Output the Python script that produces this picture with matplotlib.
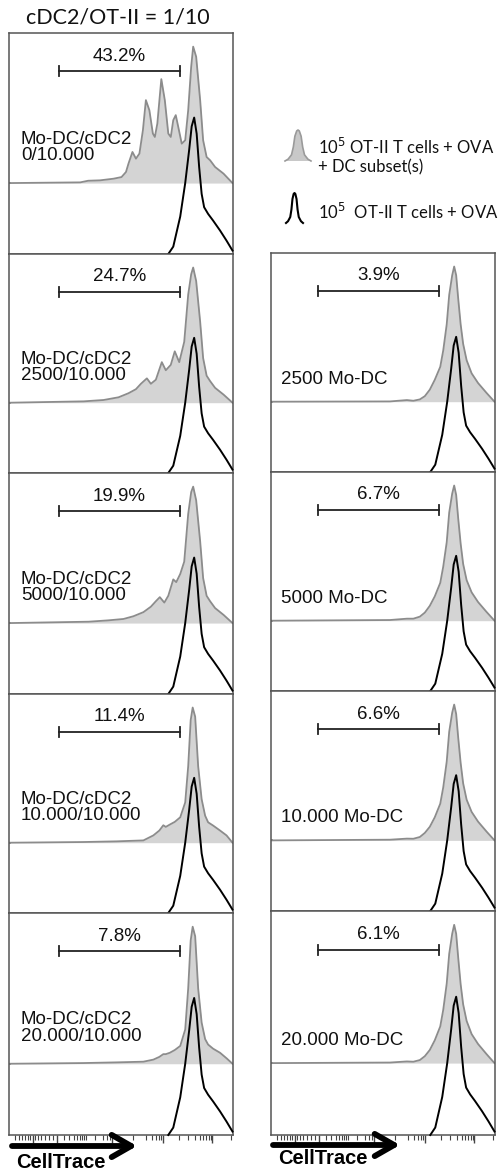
import numpy as np
import matplotlib
matplotlib.use("Agg")
import matplotlib.pyplot as plt

# ---------------- data (x in CellTrace display units 0..4.5, y = % of mode) -------------
control_x = [3.20, 3.30, 3.44, 3.54, 3.62, 3.67, 3.72, 3.77, 3.82, 3.87, 3.92, 4.00, 4.10, 4.24, 4.37, 4.49]
control_y = [0, 5.4, 27.5, 52, 76.5, 93.6, 100, 88.2, 63.7, 44.1, 34.3, 29.4, 24.5, 17.2, 9.8, 2.5]

left_labels = ["Mo-DC/cDC2\n0/10.000", "Mo-DC/cDC2\n2500/10.000", "Mo-DC/cDC2\n5000/10.000",
               "Mo-DC/cDC2\n10.000/10.000", "Mo-DC/cDC2\n20.000/10.000"]
left_pcts = ["43.2%", "24.7%", "19.9%", "11.4%", "7.8%"]

L1_x = [0.02, 1.43, 1.59, 1.83, 2.10, 2.26, 2.35, 2.40, 2.48, 2.55, 2.62, 2.69, 2.75, 2.82, 2.89, 2.93, 2.98,
        3.06, 3.13, 3.20, 3.25, 3.30, 3.35, 3.40, 3.47, 3.54, 3.60, 3.66, 3.70, 3.76, 3.84, 3.90, 3.97, 4.04,
        4.14, 4.31, 4.49]
L1_y = [0, 0.5, 1.7, 2, 3.2, 4.4, 8.1, 14.2, 22.8, 17.9, 21.6, 38.7, 60.8, 53.4, 36.3, 33.8, 43.6,
        76.2, 60.8, 36.3, 33.8, 46.1, 49.8, 41.2, 28.9, 31.4, 53.4, 85.3, 100, 92.6, 60.8, 31.4, 19.1, 16.7,
        11.8, 6.9, 0]

L2_x = [0.02, 1.5, 1.9, 2.2, 2.4, 2.55, 2.65, 2.77, 2.85, 2.95, 3.07, 3.15, 3.25, 3.33, 3.42, 3.52, 3.60,
        3.66, 3.70, 3.76, 3.84, 3.90, 3.97, 4.04, 4.14, 4.31, 4.49]
L2_y = [0, 1, 2, 4, 7, 10, 14, 18, 14, 17, 30, 24, 28, 38, 30, 45, 80, 95, 100, 90, 60, 33, 20, 16, 11, 6, 0]

L3_x = [0.02, 1.6, 2.0, 2.3, 2.5, 2.7, 2.85, 2.95, 3.03, 3.12, 3.2, 3.3, 3.36, 3.44, 3.52, 3.6, 3.66, 3.70,
        3.76, 3.84, 3.9, 3.97, 4.04, 4.14, 4.31, 4.49]
L3_y = [0, 1, 2, 3, 5, 8, 12, 16, 19, 15, 20, 32, 30, 36, 45, 80, 96, 100, 90, 60, 33, 20, 16, 11, 6, 0]

L4_x = [0.02, 1.49, 2.16, 2.70, 2.90, 3.02, 3.10, 3.15, 3.23, 3.33, 3.44, 3.54, 3.60, 3.65, 3.69, 3.74,
        3.80, 3.87, 3.94, 4.00, 4.10, 4.24, 4.37, 4.49]
L4_y = [0, 0.5, 1, 1.7, 5.4, 9, 12.9, 11.7, 13.4, 15.4, 18.8, 29.8, 56.6, 90.7, 100, 93.2,
        56.6, 32.2, 20, 15.1, 12.7, 9, 5.4, 0]

L5_x = [0.02, 1.49, 2.16, 2.70, 2.90, 3.02, 3.10, 3.15, 3.23, 3.33, 3.44, 3.54, 3.60, 3.65, 3.69, 3.74,
        3.80, 3.87, 3.94, 4.00, 4.10, 4.24, 4.37, 4.49]
L5_y = [0, 0.5, 1, 1.5, 3, 5, 7, 7, 8, 10, 13, 25, 55, 90, 100, 93, 55, 30, 18, 14, 11, 8, 4, 0]

right_labels = ["2500 Mo-DC", "5000 Mo-DC", "10.000 Mo-DC", "20.000 Mo-DC"]
right_pcts = ["3.9%", "6.7%", "6.6%", "6.1%"]

R1_x = [0.02, 2.39, 2.73, 2.86, 2.99, 3.09, 3.19, 3.29, 3.40, 3.46, 3.53, 3.58, 3.64, 3.68, 3.72, 3.76,
        3.81, 3.86, 3.93, 4.03, 4.16, 4.33, 4.49]
R1_y = [0, 0.2, 1.2, 0.7, 1.7, 4.1, 8.9, 16.2, 25.8, 37.9, 57.2, 79, 93.5, 100, 93.5, 76.6,
        57.2, 42.8, 30.7, 21, 13.8, 6.5, 0]
R2_x = [0.02, 2.39, 2.73, 2.86, 2.99, 3.09, 3.19, 3.29, 3.40, 3.46, 3.53, 3.58, 3.64, 3.68, 3.72, 3.76,
        3.81, 3.86, 3.93, 4.03, 4.16, 4.33, 4.49]
R2_y = [0, 0.5, 1.5, 1.5, 3, 6, 11, 18, 28, 40, 58, 80, 94, 100, 93, 76,
        57, 42, 30, 21, 13.8, 6.5, 0]
R3_x = R2_x
R3_y = [0, 0.5, 1.3, 1.2, 2.5, 5.5, 10, 17, 27, 39, 58, 80, 94, 100, 93, 76,
        57, 42, 30, 21, 13.8, 6.5, 0]
R4_x = R2_x
R4_y = [0, 0.4, 1.2, 1, 2.2, 5, 9.5, 16.5, 26.5, 38.5, 57.5, 79, 93.5, 100, 93.5, 76.6,
        57, 42.5, 30.5, 21, 13.8, 6.5, 0]

left_gray = [(L1_x, L1_y), (L2_x, L2_y), (L3_x, L3_y), (L4_x, L4_y), (L5_x, L5_y)]
right_gray = [(R1_x, R1_y), (R2_x, R2_y), (R3_x, R3_y), (R4_x, R4_y)]

gate_left = (1.0, 3.44)
gate_right = (0.94, 3.37)

tick_major = [0.48, 0.96, 2.07, 3.10, 4.08]
tick_minor = [0.12, 0.2, 0.27, 0.33, 0.38, 0.43, 0.53, 0.58, 0.64, 0.72, 0.8, 0.88, 1.1, 1.2, 1.3, 1.37,
              1.42, 1.46, 1.5, 1.55, 1.72, 1.88, 1.97, 2.02, 2.5, 2.75, 2.88, 2.96, 3.02, 3.06,
              3.42, 3.6, 3.73, 3.83, 3.9, 3.96, 4.01, 4.05, 4.46]

# ---------------- layout ---------------------------------------------------------------
W, H = 502, 1171
fig = plt.figure(figsize=(W / 100, H / 100), dpi=100)
fig.patch.set_facecolor("white")

YTOP = 162.0
GOFF = 52.0
XMAX = 4.5
SPINE = "#555555"
TXT = dict(family=["Liberation Sans", "DejaVu Sans"], fontsize=13.5, color="#111111")


def add_ax(x0, ytop, ybot, w=224):
    ax = fig.add_axes([x0 / W, 1 - ybot / H, w / W, (ybot - ytop) / H])
    ax.set_xlim(0, XMAX)
    ax.set_ylim(0, YTOP)
    for s in ax.spines.values():
        s.set_color(SPINE)
        s.set_linewidth(1.1)
    ax.set_yticks([])
    ax.set_xticks([])
    return ax


def draw_panel(ax, gx, gy, label, pct, gate, single_line=False):
    gx = np.asarray(gx)
    gy = np.asarray(gy)
    ax.fill_between(gx, GOFF, GOFF + gy, color="#d4d4d4", lw=0, zorder=1)
    ax.plot(gx, GOFF + gy, color="#8c8c8c", lw=1.3, zorder=2)
    ax.plot([0, gx[0]], [GOFF, GOFF], color="#8c8c8c", lw=1.3, zorder=2)
    ax.plot(control_x, control_y, color="black", lw=1.4, zorder=3, clip_on=False)
    # gate
    gy0 = YTOP - 38 / 1.36
    ax.plot(gate, [gy0, gy0], color="#222222", lw=1.3)
    for g in gate:
        ax.plot([g, g], [gy0 - 3.7, gy0 + 3.7], color="#222222", lw=1.3)
    ax.text(sum(gate) / 2, YTOP - 17, pct, ha="center", va="center", **TXT)
    if single_line:
        ax.text(0.21, YTOP - 127 / 1.36, label, ha="left", va="center", **TXT)
    else:
        ax.text(0.24, YTOP - 114 / 1.36, label, ha="left", va="center", linespacing=0.95, **TXT)


def bottom_ticks(ax):
    ax.set_xticks(tick_major)
    ax.set_xticks(tick_minor, minor=True)
    ax.set_xticklabels([])
    ax.tick_params(axis="x", which="major", direction="out", length=6, width=1.0, color="#444444")
    ax.tick_params(axis="x", which="minor", direction="out", length=3.5, width=0.8, color="#444444")


left_y = [(33, 254), (254, 473), (473, 694), (694, 913), (913, 1135)]
right_y = [(253, 472), (472, 691), (691, 911), (911, 1135)]

for i, (yt, yb) in enumerate(left_y):
    ax = add_ax(9, yt, yb)
    gx, gy = left_gray[i]
    draw_panel(ax, gx, gy, left_labels[i], left_pcts[i], gate_left)
    if i == len(left_y) - 1:
        bottom_ticks(ax)

for i, (yt, yb) in enumerate(right_y):
    ax = add_ax(271, yt, yb)
    gx, gy = right_gray[i]
    draw_panel(ax, gx, gy, right_labels[i], right_pcts[i], gate_right, single_line=True)
    if i == len(right_y) - 1:
        bottom_ticks(ax)

# ---------------- overlay for title, legend, arrows --------------------------------------
ov = fig.add_axes([0, 0, 1, 1], zorder=10)
ov.set_xlim(0, W)
ov.set_ylim(H, 0)
ov.axis("off")
ov.patch.set_alpha(0)

CAL = ["Lato", "DejaVu Sans"]
ov.text(118, 17, "cDC2/OT-II = 1/10", ha="center", va="center", family=CAL, fontsize=15.5, color="#111111")

# legend icons (shape points)
icon_x = [0, 0.12, 0.25, 0.32, 0.38, 0.45, 0.5, 0.55, 0.62, 0.68, 0.75, 0.88, 1.0]
icon_y = [0, 0.06, 0.2, 0.45, 0.8, 0.97, 1.0, 0.97, 0.8, 0.45, 0.2, 0.06, 0]
ix = 285 + np.asarray(icon_x) * 26
iy = 161 - np.asarray(icon_y) * 31
ov.fill(np.r_[ix, ix[0]], np.r_[iy, iy[0]], color="#c8c8c8", lw=0)
ov.plot(ix, iy, color="#9a9a9a", lw=1.2)
bx = 286 + np.asarray(icon_x) * 17
by = 223 - np.asarray(icon_y) * 30
ov.plot(bx, by, color="black", lw=1.5)

LEG = dict(family=CAL, fontsize=12, color="#111111", ha="left", va="center")
ov.text(318, 147, r"10$^{5}$ OT-II T cells + OVA", **LEG)
ov.text(318, 167, "+ DC subset(s)", **LEG)
ov.text(318, 212, r"10$^{5}$  OT-II T cells + OVA", **LEG)

# arrows and CellTrace labels
for x0, x1, ya, tx, ty in [(12, 137, 1146, 16, 1162), (273, 400, 1145, 278, 1158)]:
    ov.annotate("", xy=(x1, ya), xytext=(x0, ya),
                arrowprops=dict(arrowstyle="->,head_length=0.7,head_width=0.4", lw=4.2,
                                color="black", mutation_scale=20, shrinkA=0, shrinkB=0))
    ov.text(tx, ty, "CellTrace", ha="left", va="center", family=["Liberation Sans", "DejaVu Sans"],
            fontsize=14.5, fontweight="bold", color="black")

fig.savefig("out.png", dpi=100)
